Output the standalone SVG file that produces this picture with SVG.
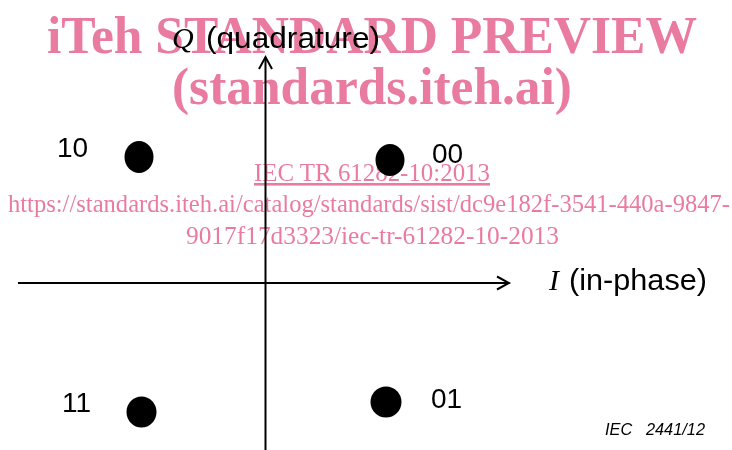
<svg xmlns="http://www.w3.org/2000/svg" width="732" height="450" viewBox="0 0 732 450">
<style>
.lbl{font-family:"Liberation Sans",Arial,sans-serif;fill:#000}
.it{font-family:"Liberation Serif","Times New Roman",serif;font-style:italic;fill:#000}
.dot{fill:#000}
.ax{stroke:#000;stroke-width:2;fill:none}
.wm{font-family:"Liberation Serif","Times New Roman",serif;fill:#ea7ba0;mix-blend-mode:multiply}
</style>
<rect width="732" height="450" fill="#fff"/>
<g id="connectors">
<line class="ax" x1="265.5" y1="450" x2="265.5" y2="57"/>
<polyline class="ax" points="259,69 265.5,57 272,69"/>
<line class="ax" x1="18" y1="283" x2="509" y2="283"/>
<polyline class="ax" points="497,276.5 509,283 497,289.5"/>
</g>
<g id="axis-q">
<text class="it" x="172" y="48" font-size="30">Q</text>
<text class="lbl" x="206" y="48" font-size="30" textLength="174" lengthAdjust="spacingAndGlyphs">(quadrature)</text>
</g>
<g id="axis-i">
<text class="it" x="549" y="290" font-size="30">I</text>
<text class="lbl" x="569" y="290" font-size="30" textLength="138" lengthAdjust="spacingAndGlyphs">(in-phase)</text>
</g>
<g id="point-10">
<ellipse class="dot" cx="139" cy="157" rx="14.5" ry="16"/>
<text class="lbl" x="57" y="157" font-size="28">10</text>
</g>
<g id="point-00">
<ellipse class="dot" cx="390" cy="160" rx="14.5" ry="16"/>
<text class="lbl" x="432" y="163" font-size="28">00</text>
</g>
<g id="point-11">
<ellipse class="dot" cx="141.5" cy="412" rx="15" ry="15.5"/>
<text class="lbl" x="62" y="412" font-size="28">11</text>
</g>
<g id="point-01">
<ellipse class="dot" cx="386" cy="402" rx="15.5" ry="15.5"/>
<text class="lbl" x="431" y="408" font-size="28">01</text>
</g>
<text class="lbl" x="605" y="435" font-size="16.5" font-style="italic" textLength="100" lengthAdjust="spacingAndGlyphs" xml:space="preserve">IEC   2441/12</text>
<g id="watermark">
<text class="wm" x="47" y="53" font-size="53" font-weight="bold" textLength="650" lengthAdjust="spacingAndGlyphs">iTeh STANDARD PREVIEW</text>
<text class="wm" x="172" y="104" font-size="52" font-weight="bold" textLength="400" lengthAdjust="spacingAndGlyphs">(standards.iteh.ai)</text>
<text class="wm" x="254" y="181" font-size="26" text-decoration="underline" textLength="236" lengthAdjust="spacingAndGlyphs">IEC TR 61282-10:2013</text>
<text class="wm" x="8" y="212" font-size="26" textLength="722" lengthAdjust="spacingAndGlyphs">https://standards.iteh.ai/catalog/standards/sist/dc9e182f-3541-440a-9847-</text>
<text class="wm" x="186" y="244" font-size="26" textLength="373" lengthAdjust="spacingAndGlyphs">9017f17d3323/iec-tr-61282-10-2013</text>
</g>
</svg>
